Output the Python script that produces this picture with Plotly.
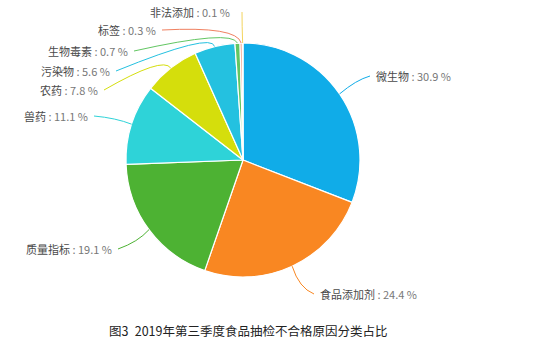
import math
import plotly.graph_objects as go

# ---- data ----
categories = ["微生物", "食品添加剂", "质量指标", "兽药", "农药", "污染物", "生物毒素", "标签", "非法添加"]
values = [30.9, 24.4, 19.1, 11.1, 7.8, 5.6, 0.7, 0.3, 0.1]
colors = ["#10ACE8", "#F98722", "#4DB233", "#2ED3D8", "#D5DE0C", "#24C1E0", "#62C662", "#F08060", "#F3D45E"]
caption = "图3\u20022019年第三季度食品抽检不合格原因分类占比"

# ---- layout ----
W, H = 534, 356
CX, CY, R = 243, 160, 117

# per-label bend point, end point (px) and side
bend_pts = [(356, 80), (299, 288), (138, 242), (116, 118), (163, 56), (212, 32), (232, 29), (237, 26), (242, 25)]
end_pts = [(370, 76), (314, 294), (118, 249), (94, 116), (104, 90), (116, 71), (134, 51), (162, 30), (242, 12)]
sides = ["left", "left", "right", "right", "right", "right", "right", "right", "right"]
label_offsets = [4, 4, -4, -4, -4, -4, -4, -4, -10]


def px(x):
    return x / W


def py(y):
    return 1 - y / H


fig = go.Figure()
fig.add_trace(go.Pie(
    labels=categories,
    values=values,
    sort=False,
    direction="clockwise",
    rotation=0,
    marker=dict(colors=colors, line=dict(color="white", width=1.2)),
    textinfo="none",
    hoverinfo="label+percent",
    showlegend=False,
    domain=dict(x=[px(CX - R), px(CX + R)], y=[py(CY + R), py(CY - R)]),
))

total = sum(values)
shapes = []
annotations = []
cum = 0.0
for i, (name, v) in enumerate(zip(categories, values)):
    mid = (cum + v / 2) / total * 2 * math.pi
    cum += v
    sx = CX + R * math.sin(mid)
    sy = CY - R * math.cos(mid)
    bx, by = bend_pts[i]
    ex, ey = end_pts[i]
    path = f"M {px(sx)},{py(sy)} Q {px(bx)},{py(by)} {px(ex)},{py(ey)}"
    shapes.append(dict(type="path", path=path, xref="paper", yref="paper",
                       line=dict(color=colors[i], width=1)))
    annotations.append(dict(
        x=px(ex + label_offsets[i]), y=py(ey), xref="paper", yref="paper",
        xanchor=sides[i], yanchor="middle", showarrow=False,
        text=f"<span style='color:#4a4a4a'>{name}</span><span style='color:#777'> : {v} %</span>",
        font=dict(size=11, family="Noto Sans CJK SC"),
    ))

annotations.append(dict(
    x=px(248), y=py(330), xref="paper", yref="paper", xanchor="center", yanchor="middle",
    showarrow=False, text=caption, font=dict(size=12.5, color="#222", family="Noto Sans CJK SC"),
))

fig.update_layout(
    width=W, height=H,
    margin=dict(l=0, r=0, t=0, b=0),
    paper_bgcolor="white", plot_bgcolor="white",
    shapes=shapes, annotations=annotations,
)

fig.write_html("out.html")
